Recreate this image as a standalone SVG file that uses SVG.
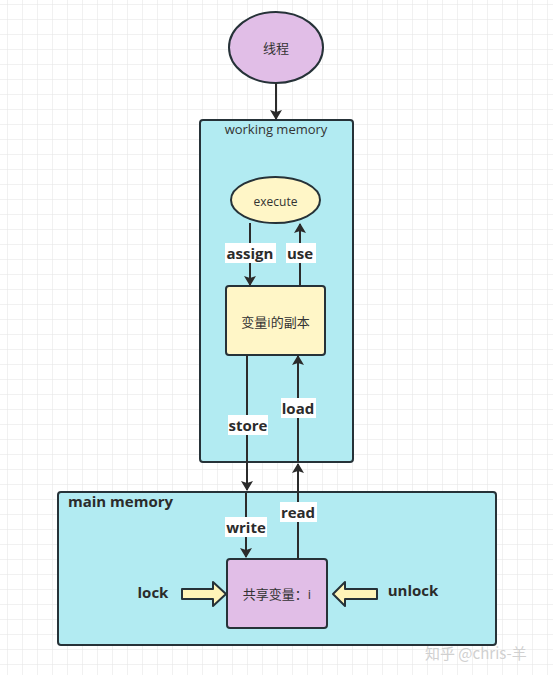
<svg xmlns="http://www.w3.org/2000/svg" width="553" height="675" viewBox="0 0 553 675">
<defs>
<pattern id="grid" x="7" y="4" width="15" height="15" patternUnits="userSpaceOnUse">
<path d="M0 0H15M0 0V15" fill="none" stroke="#e3e3e3" stroke-width="1"/>
</pattern>
<marker id="arr" viewBox="0 0 10 10" refX="9" refY="5" markerWidth="5" markerHeight="6" markerUnits="strokeWidth" orient="auto" preserveAspectRatio="none">
<path d="M0 0L10 5L0 10L2 5Z" fill="#2b2b2b"/>
</marker>
<style>
.node{stroke:#263238;stroke-width:2}
.cyan{fill:#b2ebf2}
.yellow{fill:#fff6c7}
.purple{fill:#e1bee7}
.t{font-family:"Open Sans","Noto Sans CJK SC",sans-serif;fill:#333;text-anchor:middle;dominant-baseline:central}
.lbl{font-family:"Open Sans",sans-serif;font-weight:bold;font-size:15px;fill:#2b2b2b;text-anchor:middle;dominant-baseline:central}
.conn{stroke:#2b2b2b;stroke-width:2;fill:none;marker-end:url(#arr)}
.blk{fill:#fff4b8;stroke:#263238;stroke-width:2;stroke-linejoin:round}
</style>
</defs>
<rect width="553" height="675" fill="#fff"/>
<rect width="553" height="675" fill="url(#grid)"/>

<g id="working-memory">
<rect class="node cyan" x="200" y="120" width="153" height="342" rx="3"/>
<text class="t" x="276" y="129" font-size="13" fill="#37474f">working memory</text>
</g>
<g id="main-memory">
<rect class="node cyan" x="58" y="492" width="438" height="153" rx="3"/>
<text class="lbl" x="68" y="501" style="text-anchor:start">main memory</text>
</g>
<g id="thread">
<ellipse class="node purple" cx="276" cy="47.5" rx="47" ry="35.5"/>
<text class="t" x="276" y="48" font-size="13">线程</text>
</g>
<g id="execute">
<ellipse class="node yellow" cx="275.5" cy="200" rx="44.5" ry="23"/>
<text class="t" x="275.5" y="201" font-size="12">execute</text>
</g>
<g id="copy">
<rect class="node yellow" x="226" y="286" width="99" height="69" rx="3"/>
<text class="t" x="275.5" y="322" font-size="13">变量i的副本</text>
</g>
<g id="shared">
<rect class="node purple" x="227" y="559" width="100" height="69" rx="3"/>
<text class="t" x="277" y="594" font-size="13">共享变量：i</text>
</g>

<g id="connectors">
<path class="conn" d="M276 83V119"/>
<path class="conn" d="M250 223V285"/>
<path class="conn" d="M300 286V224"/>
<path class="conn" d="M247 355V490"/>
<path class="conn" d="M298 462V356"/>
<path class="conn" d="M246 493V557"/>
<path class="conn" d="M298 559V464"/>
<path class="blk" d="M182 589H213V582L226 594L213 606V599H182Z"/>
<path class="blk" d="M377 589H345V582L333 594L345 606V599H377Z"/>
</g>

<g id="labels">
<rect x="225" y="243" width="51" height="20" fill="#fff"/>
<text class="lbl" x="250" y="253">assign</text>
<rect x="286" y="243" width="30" height="20" fill="#fff"/>
<text class="lbl" x="300" y="253">use</text>
<rect x="228" y="415" width="40" height="20" fill="#fff"/>
<text class="lbl" x="248" y="425">store</text>
<rect x="281" y="398" width="35" height="20" fill="#fff"/>
<text class="lbl" x="298" y="408">load</text>
<rect x="225" y="517" width="42" height="20" fill="#fff"/>
<text class="lbl" x="246" y="527">write</text>
<rect x="280" y="502" width="37" height="20" fill="#fff"/>
<text class="lbl" x="298" y="512">read</text>
<text class="lbl" x="153" y="592">lock</text>
<text class="lbl" x="413" y="590">unlock</text>
</g>
<text x="425" y="652" font-family="'Noto Sans CJK SC',sans-serif" font-size="15" fill="#d0d0d0" dominant-baseline="central">知乎 @chris-羊</text>
</svg>
